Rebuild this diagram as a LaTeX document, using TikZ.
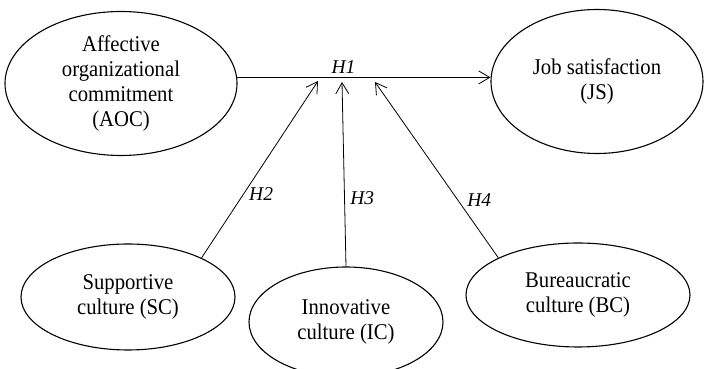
\documentclass[tikz,border=0pt]{standalone}
\usepackage{fontspec}
\setmainfont[FakeStretch=0.92]{Liberation Serif}
\newfontfamily\hypfont{Liberation Serif}
\usepackage{tikz}
\usetikzlibrary{arrows.meta,calc,positioning,shapes.geometric}

\begin{document}
\begin{tikzpicture}[x=1pt,y=1pt,
    construct/.style={draw,ellipse,line width=1.1pt,inner sep=0pt,align=center,
        font=\fontsize{22.5}{25}\selectfont},
    hyp/.style={line width=0.8pt,-{Straight Barb[length=11pt,width=13pt,line width=0.8pt]}},
    hlabel/.style={font=\hypfont\itshape\fontsize{19.5}{22}\selectfont}]
            \clip (0,0) rectangle (705,369);
            \node[construct,minimum width=232pt,minimum height=144pt] (AOC) at (121,285.5) {Affective\\organizational\\commitment\\(AOC)};
            \node[construct,minimum width=212pt,minimum height=144pt] (JS) at (597,287.5) {Job satisfaction\\(JS)};
            \node[construct,minimum width=214pt,minimum height=106pt] (SC) at (128,72) {Supportive\\culture (SC)};
            \node[construct,minimum width=194pt,minimum height=110pt] (IC) at (346,47) {Innovative\\culture (IC)};
            \node[construct,minimum width=224pt,minimum height=104pt] (BC) at (578,74) {Bureaucratic\\culture (BC)};
            \coordinate (t2) at (318,288);
            \coordinate (t3) at (342,287);
            \coordinate (t4) at (375,287);
            \draw[hyp] (AOC.3) to node[hlabel,pos=0.42,above] {H1} (AOC.3 -| JS.west);
            \draw[hyp] (SC.28) to node[hlabel,pos=0.36,right=2pt] {H2} (t2);
            \draw[hyp] (IC.north) to node[hlabel,pos=0.37,right=2pt] {H3} (t3);
            \draw[hyp] (BC.155) to node[hlabel,pos=0.33,right=6pt] {H4} (t4);
        \end{tikzpicture}
\end{document}
